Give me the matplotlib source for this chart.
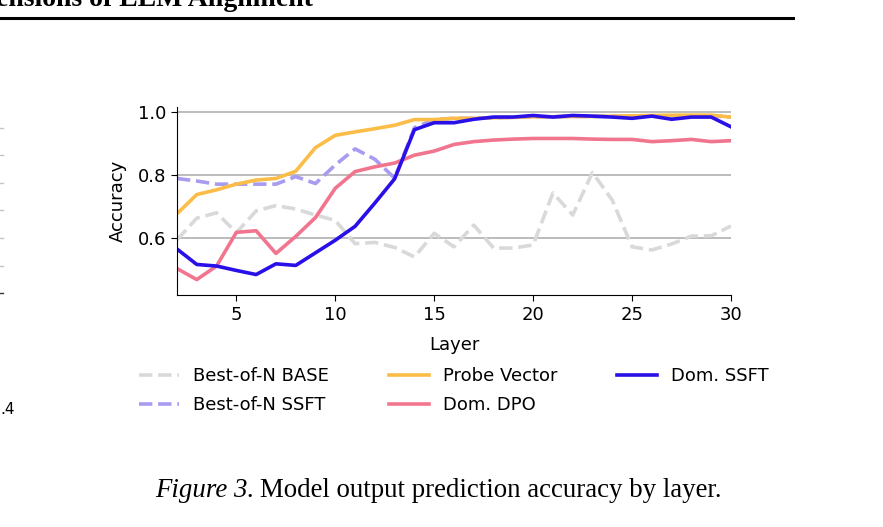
import matplotlib
matplotlib.use("Agg")
import matplotlib.pyplot as plt
from matplotlib.lines import Line2D

layers = list(range(2, 31))

best_of_n_base = [0.594, 0.663, 0.680, 0.617, 0.686, 0.703, 0.692, 0.673, 0.656,
                  0.582, 0.586, 0.570, 0.540, 0.615, 0.572, 0.641, 0.568, 0.568,
                  0.578, 0.743, 0.673, 0.808, 0.720, 0.572, 0.562, 0.581, 0.606,
                  0.607, 0.638]
best_of_n_ssft = [0.789, 0.781, 0.771, 0.771, 0.771, 0.771, 0.795, 0.773, 0.832,
                  0.883, 0.850, 0.790, 0.950, 0.976, 0.980, 0.980, 0.982, 0.983,
                  0.985, 0.985, 0.986, 0.986, 0.986, 0.986, 0.987, 0.988, 0.988,
                  0.988, 0.984]
probe_vector = [0.677, 0.738, 0.753, 0.771, 0.784, 0.789, 0.812, 0.887, 0.926,
                0.937, 0.947, 0.958, 0.976, 0.976, 0.980, 0.980, 0.982, 0.983,
                0.985, 0.985, 0.986, 0.986, 0.987, 0.988, 0.989, 0.990, 0.990,
                0.990, 0.984]
dom_dpo = [0.503, 0.468, 0.511, 0.618, 0.623, 0.551, 0.605, 0.665, 0.758,
           0.811, 0.826, 0.838, 0.863, 0.876, 0.897, 0.906, 0.911, 0.914,
           0.916, 0.916, 0.916, 0.914, 0.913, 0.913, 0.906, 0.909, 0.913,
           0.906, 0.909]
dom_ssft = [0.565, 0.516, 0.511, 0.497, 0.484, 0.518, 0.513, 0.553, 0.593,
            0.637, 0.711, 0.788, 0.944, 0.966, 0.966, 0.977, 0.984, 0.984,
            0.989, 0.984, 0.989, 0.987, 0.984, 0.980, 0.987, 0.977, 0.984,
            0.984, 0.953]

series = [
    ("Best-of-N BASE", best_of_n_base, "#d9d9d9", "--"),
    ("Best-of-N SSFT", best_of_n_ssft, "#a89cf0", "--"),
    ("Probe Vector", probe_vector, "#fbbd48", "-"),
    ("Dom. DPO", dom_dpo, "#f2758f", "-"),
    ("Dom. SSFT", dom_ssft, "#2a10e8", "-"),
]

W, H = 883, 527
fig = plt.figure(figsize=(W / 100, H / 100), dpi=100)
ax = fig.add_axes([177 / W, 1 - 294.7 / H, (731 - 177) / W, (294.7 - 107.3) / H])

for name, vals, color, ls in series:
    ax.plot(layers, vals, color=color, ls=ls, lw=2.6, label=name)

ax.set_xlim(2, 30)
ax.set_ylim(0.42, 1.015)
ax.set_xticks([5, 10, 15, 20, 25, 30])
ax.set_yticks([0.6, 0.8, 1.0])
ax.yaxis.grid(True, color="#b0b0b0", lw=1.2)
ax.set_axisbelow(True)
ax.spines["top"].set_visible(False)
ax.spines["right"].set_visible(False)
ax.tick_params(labelsize=13, length=4.5)
ax.set_xlabel("Layer", fontsize=13, labelpad=9)
ax.set_ylabel("Accuracy", fontsize=13, labelpad=8)

ax.legend(loc="upper center", bbox_to_anchor=(0.5, -0.30), ncol=3, frameon=False,
          fontsize=13, handlelength=2.2, columnspacing=3.3, labelspacing=0.62,
          handletextpad=0.8)

# page context: header, rule, caption, left-edge remnants
fig.text(313 / W, 1 - 6 / H, "Dimensions of LLM Alignment", ha="right", va="baseline",
         fontsize=20, fontweight="bold", family="Liberation Serif")
fig.add_artist(Line2D([0, 793 / W], [1 - 17.5 / H, 1 - 17.5 / H], color="black", lw=2.2))

cap_y = 1 - 497 / H
cap_fs = 19.4
t1 = fig.text(155 / W, cap_y, "Figure 3.", ha="left", va="baseline", fontsize=cap_fs,
              family="Liberation Serif", style="italic")
fig.canvas.draw()
bb = t1.get_window_extent(fig.canvas.get_renderer())
fig.text((bb.x1 + 6) / W, cap_y, "Model output prediction accuracy by layer.", ha="left",
         va="baseline", fontsize=cap_fs, family="Liberation Serif")

for yy in [128, 155, 183, 210, 238, 266]:
    fig.add_artist(Line2D([0, 3 / W], [1 - yy / H, 1 - yy / H], color="#c4c4c4", lw=1))
fig.add_artist(Line2D([0, 3 / W], [1 - 293 / H, 1 - 293 / H], color="#333333", lw=1))
fig.text(0, 1 - 414 / H, ".4", ha="left", va="baseline", fontsize=11)

fig.savefig("out.png", dpi=100)
